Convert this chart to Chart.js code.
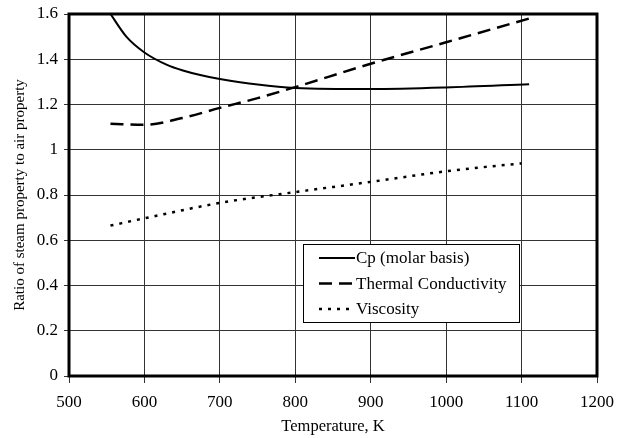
<!DOCTYPE html>
<html>
<head>
<meta charset="utf-8">
<script src="https://cdn.jsdelivr.net/npm/chart.js@4"></script>
<style>
  html, body { margin: 0; padding: 0; background: #fff; }
  #wrap { width: 617px; height: 438px; }
</style>
</head>
<body>
<div id="wrap"><canvas id="chart" width="617" height="438"></canvas></div>
<script>
// data
const cpTemps = [555, 576, 600, 630, 651, 674, 700, 750, 800, 900, 1000, 1110];
const cpValues = [1.60, 1.50, 1.43, 1.375, 1.35, 1.33, 1.313, 1.288, 1.273, 1.268, 1.275, 1.29];

const kTemps = [555, 600, 650, 700, 750, 800, 900, 1000, 1110];
const kValues = [1.115, 1.11, 1.14, 1.185, 1.228, 1.277, 1.38, 1.475, 1.58];

const muTemps = [555, 600, 700, 800, 900, 1000, 1100];
const muValues = [0.665, 0.697, 0.765, 0.813, 0.858, 0.905, 0.94];

const seriesNames = ['Cp (molar basis)', 'Thermal Conductivity', 'Viscosity'];

const toPoints = (xs, ys) => xs.map((x, i) => ({ x: x, y: ys[i] }));
const font = 'Liberation Serif';

    // frame round the plot + legend box inside it
const framePlugin = {
    id: 'frame',
    afterDraw(chart) {
        const ctx = chart.ctx;
        const a = chart.chartArea;
        ctx.save();
        ctx.strokeStyle = '#000';
        ctx.lineWidth = 3;
        ctx.strokeRect(a.left, a.top, a.right - a.left, a.bottom - a.top);

        // legend
        const bx = a.left + 234, by = a.top + 230, bw = 216, bh = 78;
        ctx.fillStyle = '#fff';
        ctx.fillRect(bx, by, bw, bh);
        ctx.lineWidth = 1;
        ctx.strokeStyle = '#000';
        ctx.strokeRect(bx + 0.5, by + 0.5, bw, bh);
        ctx.font = '17px "' + font + '"';
        ctx.textBaseline = 'middle';
        chart.data.datasets.forEach((ds, i) => {
            const y = by + 14 + i * 25.5;
            ctx.beginPath();
            ctx.setLineDash(ds.borderDash || []);
            ctx.lineWidth = ds.borderWidth;
            ctx.moveTo(bx + 16, y);
            ctx.lineTo(bx + 52, y);
            ctx.stroke();
            ctx.setLineDash([]);
            ctx.fillStyle = '#000';
            ctx.fillText(ds.label, bx + 53, y + 1);
        });
        ctx.restore();
    }
};

new Chart(document.getElementById('chart').getContext('2d'), {
    type: 'line',
    data: {
        datasets: [
            {
                label: seriesNames[0],
                data: toPoints(cpTemps, cpValues),
                borderColor: '#000',
                borderWidth: 2,
                pointRadius: 0,
                cubicInterpolationMode: 'monotone'
            },
            {
                label: seriesNames[1],
                data: toPoints(kTemps, kValues),
                borderColor: '#000',
                borderWidth: 2.5,
                borderDash: [13, 7],
                pointRadius: 0,
                cubicInterpolationMode: 'monotone'
            },
            {
                label: seriesNames[2],
                data: toPoints(muTemps, muValues),
                borderColor: '#000',
                borderWidth: 2.5,
                borderDash: [3, 6],
                pointRadius: 0,
                cubicInterpolationMode: 'monotone'
            }
        ]
    },
    options: {
        responsive: false,
        animation: false,
        layout: { padding: { top: 14, right: 20, left: 0, bottom: 0 } },
        plugins: {
            legend: { display: false },
            tooltip: { enabled: false }
        },
        scales: {
            x: {
                type: 'linear',
                min: 500,
                max: 1200,
                ticks: { stepSize: 100, color: '#000', font: { family: font, size: 17 }, padding: 9, maxRotation: 0,
                    callback: v => String(v) },
                grid: { color: '#333', lineWidth: 1, tickLength: 7 },
                border: { display: false },
                title: { display: true, text: 'Temperature, K', color: '#000', font: { family: font, size: 16.5 }, padding: { top: 0, bottom: 1 } },
                afterFit(scale) {
                    scale.height = 62;
                    scale.paddingLeft = 0;
                    scale.paddingRight = 0;
                }
            },
            y: {
                min: 0,
                max: 1.6,
                ticks: { stepSize: 0.2, color: '#000', font: { family: font, size: 17 }, padding: 6,
                    callback: v => Math.round(v * 10) / 10 + '' },
                grid: { color: '#333', lineWidth: 1, tickLength: 5 },
                border: { display: false },
                title: { display: true, text: 'Ratio of steam property to air property', color: '#000', font: { family: font, size: 15 }, padding: { top: 11, bottom: 0 } },
                afterFit(scale) {
                    scale.width = 69;
                    scale.paddingTop = 0;
                    scale.paddingBottom = 0;
                }
            }
        }
    },
    plugins: [framePlugin]
});
</script>
</body>
</html>
